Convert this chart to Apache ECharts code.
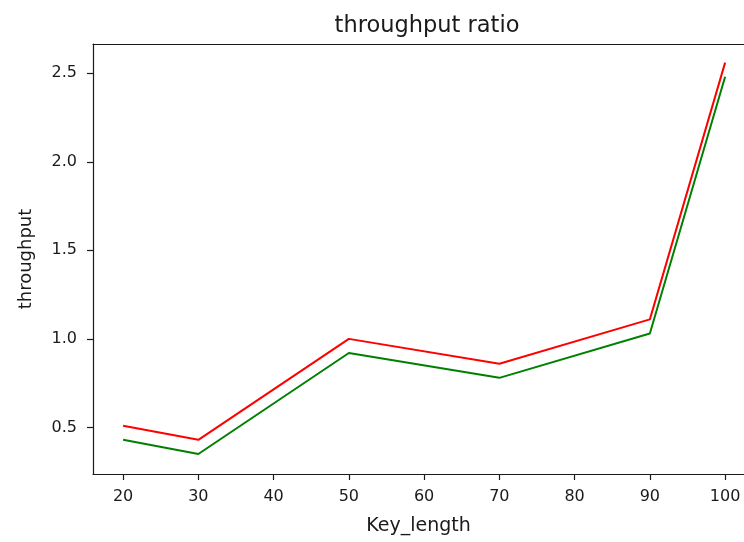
<!DOCTYPE html>
<html>
<head>
<meta charset="utf-8">
<script src="https://cdn.jsdelivr.net/npm/echarts@6/dist/echarts.min.js"></script>
<style>html,body{margin:0;padding:0;background:#fff}#c{width:744px;height:542px}</style>
</head>
<body>
<div id="c"></div>
<script>
const keyLength = [20, 30, 50, 70, 90, 100];
const redSeries = [0.51, 0.43, 1.00, 0.86, 1.11, 2.56];
const greenSeries = [0.43, 0.35, 0.92, 0.78, 1.03, 2.48];
const xTicks = [20, 30, 40, 50, 60, 70, 80, 90, 100];
const yTicks = [0.5, 1.0, 1.5, 2.0, 2.5];

const font = 'DejaVu Sans';
const ink = '#1a1a1a';
const chart = echarts.init(document.getElementById('c'), null, {renderer: 'canvas'});
chart.setOption({
  animation: false,
  backgroundColor: '#fff',
  title: {
    text: 'throughput ratio',
    left: 422, top: 10, textAlign: 'center',
    textStyle: {fontFamily: font, fontSize: 22.5, fontWeight: 'normal', color: ink}
  },
  grid: {
    left: 93, top: 44, right: 0, bottom: 68,
    show: false
  },
  xAxis: [{
    type: 'value', min: 16, max: 102.51,
    name: 'Key_length', nameLocation: 'middle', nameGap: 43,
    nameTextStyle: {fontFamily: font, fontSize: 19, color: ink},
    axisLine: {show: true, onZero: false, lineStyle: {color: ink, width: 1.2}},
    axisTick: {show: true, length: 6, lineStyle: {color: ink, width: 1.2}, customValues: xTicks},
    axisLabel: {fontFamily: font, fontSize: 16, color: ink, margin: 15, customValues: xTicks, formatter: v => String(v)},
    splitLine: {show: false}
  }, {
    type: 'value', position: 'top', min: 16, max: 102.51,
    axisLine: {show: true, onZero: false, lineStyle: {color: ink, width: 1.2}},
    axisTick: {show: false}, axisLabel: {show: false}, splitLine: {show: false}
  }],
  yAxis: {
    type: 'value', min: 0.237, max: 2.665,
    name: 'throughput', nameLocation: 'middle', nameGap: 58,
    nameTextStyle: {fontFamily: font, fontSize: 18, color: ink},
    axisLine: {show: true, onZero: false, lineStyle: {color: ink, width: 1.2}},
    axisTick: {show: true, length: 6, lineStyle: {color: ink, width: 1.2}, customValues: yTicks},
    axisLabel: {fontFamily: font, fontSize: 16, color: ink, margin: 16, customValues: yTicks, formatter: v => v.toFixed(1)},
    splitLine: {show: false}
  },
  series: [
    {type: 'line', data: keyLength.map((x, i) => [x, greenSeries[i]]), showSymbol: false,
     lineStyle: {color: '#008000', width: 2}, itemStyle: {color: '#008000'}},
    {type: 'line', data: keyLength.map((x, i) => [x, redSeries[i]]), showSymbol: false,
     lineStyle: {color: '#ff0000', width: 2}, itemStyle: {color: '#ff0000'}}
  ]
});
</script>
</body>
</html>
